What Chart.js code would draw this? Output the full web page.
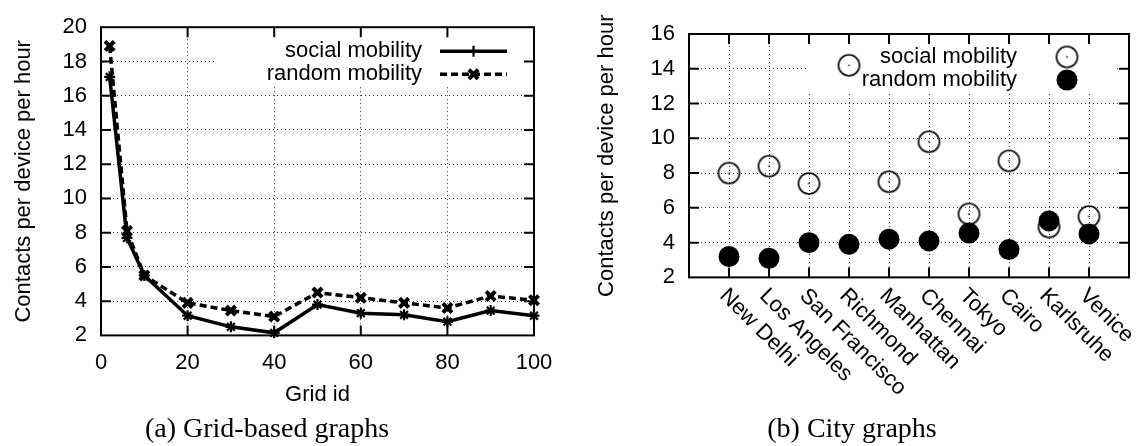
<!DOCTYPE html>
<html>
<head>
<meta charset="utf-8">
<script src="https://cdn.jsdelivr.net/npm/chart.js"></script>
<style>
  body { margin: 0; background: #fff; }
  .row { display: flex; width: 1145px; height: 446px; }
  canvas { display: block; }
</style>
</head>
<body>
<div class="row">
  <canvas id="grid-chart" width="575" height="446"></canvas>
  <canvas id="city-chart" width="570" height="446"></canvas>
</div>
<script>
// (a) grid-based graphs
const gridIds = [2, 6, 10, 20, 30, 40, 50, 60, 70, 80, 90, 100];
const socialGrid = [17.1, 7.7, 5.5, 3.15, 2.5, 2.15, 3.8, 3.3, 3.2, 2.8, 3.45, 3.15];
const randomGrid = [18.9, 8.1, 5.5, 3.9, 3.45, 3.1, 4.5, 4.2, 3.9, 3.6, 4.3, 4.05];
const gridXTicks = [0, 20, 40, 60, 80, 100];
const gridYTicks = [2, 4, 6, 8, 10, 12, 14, 16, 18, 20];

// (b) city graphs
const cities = ["New Delhi", "Los Angeles", "San Francisco", "Richmond", "Manhattan",
  "Chennai", "Tokyo", "Cairo", "Karlsruhe", "Venice"];
const socialCity = [8.0, 8.4, 7.4, 14.2, 7.5, 9.8, 5.65, 8.7, 4.9, 5.5];
const randomCity = [3.2, 3.1, 4.0, 3.9, 4.2, 4.1, 4.55, 3.6, 5.25, 4.5];
const cityYTicks = [2, 4, 6, 8, 10, 12, 14, 16];

const font = { family: "'Liberation Sans', Arial, sans-serif", size: 22 };
const capFont = { family: "'Liberation Serif', serif", size: 28, weight: "normal" };
Chart.defaults.color = "#000";

// open circle with a dot in the middle, like gnuplot's pt 6
function openCircle(r) {
  const c = document.createElement("canvas");
  c.width = c.height = Math.ceil(2 * r + 4);
  const g = c.getContext("2d");
  const m = c.width / 2;
  g.strokeStyle = "#000";
  g.lineWidth = 1.6;
  g.beginPath();
  g.arc(m, m, r, 0, Math.PI * 2);
  g.stroke();
  g.fillStyle = "#000";
  g.fillRect(m - 0.75, m - 0.75, 1.5, 1.5);
  return c;
}

function drawMarker(ctx, style, x, y, r, lw) {
  ctx.save();
  ctx.setLineDash([]);
  ctx.lineWidth = lw;
  ctx.beginPath();
  if (style instanceof HTMLCanvasElement) {
    ctx.drawImage(style, x - style.width / 2, y - style.height / 2);
  } else if (style === "circle") {
    ctx.arc(x, y, r, 0, Math.PI * 2);
    ctx.fill();
  } else {
    if (style === "cross" || style === "star") {
      ctx.moveTo(x - r, y); ctx.lineTo(x + r, y);
      ctx.moveTo(x, y - r); ctx.lineTo(x, y + r);
    }
    if (style === "crossRot" || style === "star") {
      const d = r * Math.SQRT1_2;
      ctx.moveTo(x - d, y - d); ctx.lineTo(x + d, y + d);
      ctx.moveTo(x - d, y + d); ctx.lineTo(x + d, y - d);
    }
    ctx.stroke();
  }
  ctx.restore();
}

// frame + inward mirrored ticks
const framePlugin = {
  id: "gpFrame",
  afterDraw(chart) {
    const a = chart.chartArea, ctx = chart.ctx;
    const xs = chart.scales.x, ys = chart.scales.y;
    ctx.save();
    ctx.strokeStyle = "#000";
    ctx.lineWidth = 2;
    ctx.beginPath();
    xs.ticks.forEach(t => {
      if (t.value <= xs.min || t.value >= xs.max) return;
      const x = xs.getPixelForValue(t.value);
      ctx.moveTo(x, a.bottom); ctx.lineTo(x, a.bottom - 10);
      ctx.moveTo(x, a.top); ctx.lineTo(x, a.top + 10);
    });
    ys.ticks.forEach(t => {
      if (t.value <= ys.min || t.value >= ys.max) return;
      const y = ys.getPixelForValue(t.value);
      ctx.moveTo(a.left, y); ctx.lineTo(a.left + 10, y);
      ctx.moveTo(a.right, y); ctx.lineTo(a.right - 10, y);
    });
    ctx.stroke();
    ctx.strokeRect(a.left, a.top, a.width, a.height);
    ctx.restore();
  }
};

// gnuplot style key: text right aligned, sample on the right, white box
const keyPlugin = {
  id: "gpKey",
  beforeDatasetsDraw(chart, args, o) {
    const a = chart.chartArea, ctx = chart.ctx;
    ctx.save();
    ctx.fillStyle = "#fff";
    ctx.fillRect(a.right - o.boxLeft, a.top + 1, o.boxLeft - o.boxRight, o.boxHeight);
    ctx.restore();
  },
  afterDatasetsDraw(chart, args, o) {
    const a = chart.chartArea, ctx = chart.ctx;
    ctx.save();
    ctx.font = "22px 'Liberation Sans', Arial, sans-serif";
    ctx.fillStyle = "#000";
    ctx.strokeStyle = "#000";
    ctx.textAlign = "right";
    ctx.textBaseline = "middle";
    chart.data.datasets.forEach((ds, i) => {
      const y = a.top + o.rowTop + i * o.rowStep;
      ctx.fillText(ds.label, a.right - o.textRight, y);
      if (o.sampleFrom) {
        ctx.lineWidth = ds.borderWidth;
        ctx.setLineDash(ds.borderDash || []);
        ctx.beginPath();
        ctx.moveTo(a.right - o.sampleFrom, y);
        ctx.lineTo(a.right - o.sampleTo, y);
        ctx.stroke();
      }
      drawMarker(ctx, ds.keyStyle || ds.pointStyle, a.right - o.markerAt, y,
        ds.keyRadius || ds.pointRadius, ds.pointBorderWidth);
    });
    ctx.restore();
  }
};

// rotated city names, starting at the tick and running down to the right
const cityLabelPlugin = {
  id: "cityLabels",
  afterDraw(chart) {
    const a = chart.chartArea, ctx = chart.ctx, xs = chart.scales.x;
    ctx.save();
    ctx.font = "22px 'Liberation Sans', Arial, sans-serif";
    ctx.fillStyle = "#000";
    ctx.textAlign = "left";
    ctx.textBaseline = "middle";
    cities.forEach((c, i) => {
      ctx.save();
      ctx.translate(xs.getPixelForValue(i + 1) - 6, a.bottom + 15);
      ctx.rotate(Math.PI / 4);
      ctx.fillText(c, 0, 0);
      ctx.restore();
    });
    ctx.restore();
  }
};

function gridColor(lo, hi) {
  return c => (c.tick.value <= lo || c.tick.value >= hi) ? "rgba(0,0,0,0)" : "rgba(0,0,0,0.8)";
}

new Chart(document.getElementById("grid-chart"), {
  type: "line",
  data: {
    datasets: [
      {
        label: "social mobility",
        data: gridIds.map((g, i) => ({ x: g, y: socialGrid[i] })),
        borderColor: "#000",
        backgroundColor: "#000",
        borderWidth: 3.5,
        pointStyle: "star",
        keyStyle: "cross",
        pointRadius: 5.5,
        pointBorderWidth: 2.2,
        clip: false,
        order: 0
      },
      {
        label: "random mobility",
        data: gridIds.map((g, i) => ({ x: g, y: randomGrid[i] })),
        borderColor: "#000",
        backgroundColor: "#000",
        borderWidth: 3.5,
        borderDash: [7, 4],
        pointStyle: "crossRot",
        pointRadius: 6.5,
        pointBorderWidth: 4,
        clip: false,
        order: 1
      }
    ]
  },
  options: {
    responsive: false,
    animation: false,
    events: [],
    layout: { padding: { top: 21, right: 41, left: 0, bottom: 0 } },
    scales: {
      x: {
        type: "linear", min: 0, max: 100,
        afterBuildTicks: s => { s.ticks = gridXTicks.map(v => ({ value: v })); },
        afterFit: s => { s.height = 77; },
        grid: { color: gridColor(0, 100), lineWidth: 1, drawTicks: false },
        border: { display: false, dash: [1, 3] },
        ticks: { font, padding: 14, maxRotation: 0, autoSkip: false },
        title: { display: true, text: "Grid id", font, padding: { top: 0, bottom: 4 } }
      },
      y: {
        min: 2, max: 20,
        afterBuildTicks: s => { s.ticks = gridYTicks.map(v => ({ value: v })); },
        afterFit: s => { s.width = 101; },
        grid: { color: gridColor(2, 20), lineWidth: 1, drawTicks: false },
        border: { display: false, dash: [1, 3] },
        ticks: { font, padding: 14 },
        title: { display: true, text: "Contacts per device per hour", font, padding: { top: 11, bottom: 0 } }
      }
    },
    plugins: {
      legend: { display: false },
      tooltip: { enabled: false },
      title: { display: true, position: "bottom", text: "(a) Grid-based graphs", font: capFont, color: "#000", padding: 0 },
      gpKey: { boxLeft: 317, boxRight: 12, boxHeight: 57, textRight: 112, sampleFrom: 94, sampleTo: 27, markerAt: 60.5, rowTop: 24, rowStep: 23 }
    }
  },
  plugins: [keyPlugin, framePlugin]
});

const ring = openCircle(10.5);

new Chart(document.getElementById("city-chart"), {
  type: "scatter",
  data: {
    datasets: [
      {
        label: "social mobility",
        data: socialCity.map((v, i) => ({ x: i + 1, y: v })),
        pointStyle: ring,
        pointRadius: 10.5,
        pointBorderWidth: 1.6,
        clip: false,
        order: 1
      },
      {
        label: "random mobility",
        data: randomCity.map((v, i) => ({ x: i + 1, y: v })),
        pointStyle: "circle",
        pointRadius: 10.5,
        pointBorderWidth: 0,
        backgroundColor: "#000",
        borderColor: "#000",
        clip: false,
        order: 0
      }
    ]
  },
  options: {
    responsive: false,
    animation: false,
    events: [],
    layout: { padding: { top: 34, right: 16, left: 0, bottom: 0 } },
    scales: {
      x: {
        type: "linear", min: 0, max: 11,
        afterBuildTicks: s => { s.ticks = cities.map((c, i) => ({ value: i + 1 })); },
        afterFit: s => { s.height = 135; },
        grid: { color: gridColor(0, 11), lineWidth: 1, drawTicks: false },
        border: { display: false, dash: [1, 3] },
        ticks: { display: false }
      },
      y: {
        min: 2, max: 16,
        afterBuildTicks: s => { s.ticks = cityYTicks.map(v => ({ value: v })); },
        afterFit: s => { s.width = 114; },
        grid: { color: gridColor(2, 16), lineWidth: 1, drawTicks: false },
        border: { display: false, dash: [1, 3] },
        ticks: { font, padding: 14 },
        title: { display: true, text: "Contacts per device per hour", font, padding: { top: 19, bottom: 0 } }
      }
    },
    plugins: {
      legend: { display: false },
      tooltip: { enabled: false },
      title: { display: true, position: "bottom", text: "(b) City graphs", font: capFont, color: "#000", padding: 0 },
      gpKey: { boxLeft: 322, boxRight: 14, boxHeight: 59, textRight: 112, markerAt: 62, rowTop: 23, rowStep: 23 }
    }
  },
  plugins: [keyPlugin, framePlugin, cityLabelPlugin]
});
</script>
</body>
</html>
